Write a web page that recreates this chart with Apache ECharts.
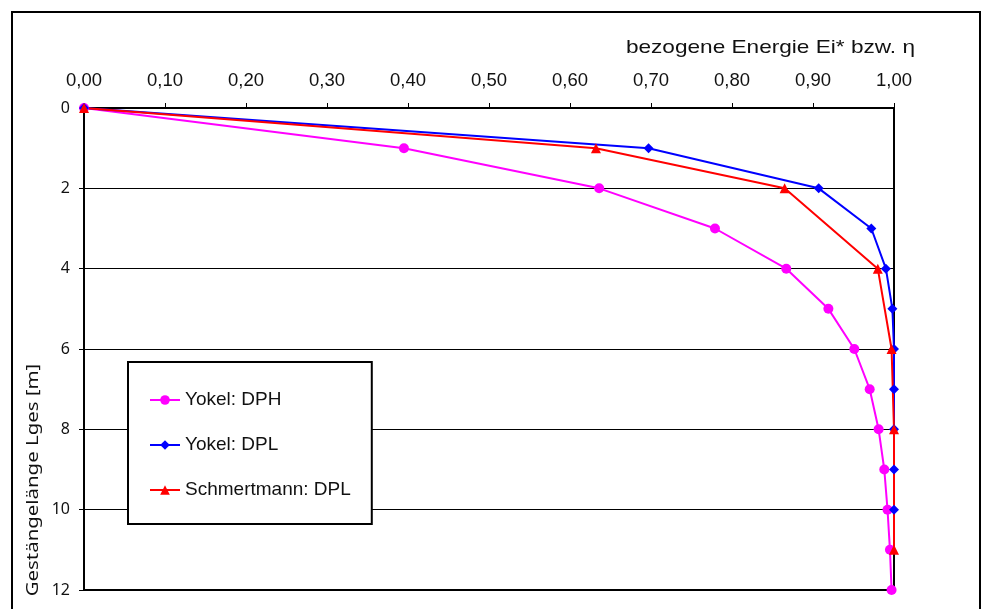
<!DOCTYPE html>
<html>
<head>
<meta charset="utf-8">
<script src="https://cdn.jsdelivr.net/npm/echarts@6/dist/echarts.min.js"></script>
<style>
  html, body { margin: 0; padding: 0; background: #fff; }
  #chart { width: 982px; height: 609px; }
</style>
</head>
<body>
<div id="chart"></div>
<script>
// Normalised energy (x) over rod length in metres (y)
const seriesNames = ['Yokel: DPH', 'Yokel: DPL', 'Schmertmann: DPL'];

const dphDepth = [0, 1, 2, 3, 4, 5, 6, 7, 8, 9, 10, 11, 12];
const dphEnergy = [0, 0.395, 0.636, 0.779, 0.867, 0.919, 0.951, 0.970, 0.981, 0.988, 0.992, 0.995, 0.997];

const dplDepth = [0, 1, 2, 3, 4, 5, 6, 7, 8, 9, 10];
const dplEnergy = [0, 0.697, 0.907, 0.972, 0.990, 0.998, 1.0, 1.0, 1.0, 1.0, 1.0];

const schmDepth = [0, 1, 2, 4, 6, 8, 11];
const schmEnergy = [0, 0.632, 0.865, 0.980, 0.997, 1.0, 1.0];

const xTitle = 'bezogene Energie Ei* bzw. η';
const yTitle = 'Gestängelänge Lges [m]';

const pairs = (xs, ys) => xs.map((x, i) => [x, ys[i]]);

const chart = echarts.init(document.getElementById('chart'), null, { renderer: 'canvas' });

const lineSeries = (name, data, color, symbol, size) => ({
  name: name,
  type: 'line',
  data: data,
  symbol: symbol,
  symbolSize: size,
  lineStyle: { color: color, width: 2 },
  itemStyle: { color: color },
  clip: false,
  animation: false
});

chart.setOption({
  backgroundColor: '#ffffff',
  animation: false,
  grid: {
    left: 84, right: 88, top: 108, bottom: 19,
    show: true, borderColor: '#000', borderWidth: 2, backgroundColor: 'transparent'
  },
  xAxis: {
    type: 'value',
    position: 'top',
    min: 0, max: 1, interval: 0.1,
    axisLine: { show: true, lineStyle: { color: '#000', width: 2 } },
    axisTick: { show: true, inside: false, length: 5, lineStyle: { color: '#000', width: 1 } },
    splitLine: { show: false },
    axisLabel: {
      margin: 18,
      color: '#111',
      fontFamily: 'Liberation Sans',
      fontSize: 18.5,
      formatter: v => v.toFixed(2).replace('.', ',')
    }
  },
  yAxis: {
    type: 'value',
    inverse: true,
    min: 0, max: 12, interval: 2,
    axisLine: { show: true, lineStyle: { color: '#000', width: 2 } },
    axisTick: { show: true, inside: false, length: 5, lineStyle: { color: '#000', width: 1 } },
    splitLine: { show: true, lineStyle: { color: '#000', width: 1 } },
    axisLabel: {
      margin: 14,
      color: '#111',
      fontFamily: 'Noto Sans',
      fontSize: 16
    }
  },
  legend: {
    orient: 'vertical',
    left: 128, top: 362,
    padding: [28, 21, 24, 21],
    itemGap: 25,
    itemWidth: 30,
    itemHeight: 12,
    borderColor: '#000',
    borderWidth: 2,
    backgroundColor: '#fff',
    data: seriesNames,
    textStyle: { fontFamily: 'Liberation Sans', fontSize: 19, color: '#111', lineHeight: 20 }
  },
  graphic: [
    {
      type: 'rect',
      silent: true,
      z: 100,
      shape: { x: 12, y: 12, width: 968, height: 640 },
      style: { fill: 'none', stroke: '#000', lineWidth: 2 }
    },
    {
      type: 'text',
      silent: true,
      x: 915, y: 48,
      scaleX: 1.19,
      style: {
        text: xTitle,
        fontFamily: 'Liberation Sans',
        fontSize: 19,
        fill: '#111',
        textAlign: 'right',
        textVerticalAlign: 'middle'
      }
    },
    {
      type: 'text',
      silent: true,
      x: 33, y: 480,
      rotation: Math.PI / 2,
      scaleX: 1.2,
      style: {
        text: yTitle,
        fontFamily: 'Noto Sans',
        fontSize: 17,
        fill: '#111',
        textAlign: 'center',
        textVerticalAlign: 'middle'
      }
    }
  ],
  series: [
    lineSeries(seriesNames[0], pairs(dphEnergy, dphDepth), '#ff00ff', 'circle', 10),
    lineSeries(seriesNames[1], pairs(dplEnergy, dplDepth), '#0000ff', 'diamond', 10),
    lineSeries(seriesNames[2], pairs(schmEnergy, schmDepth), '#ff0000', 'triangle', 10)
  ]
});
</script>
</body>
</html>
